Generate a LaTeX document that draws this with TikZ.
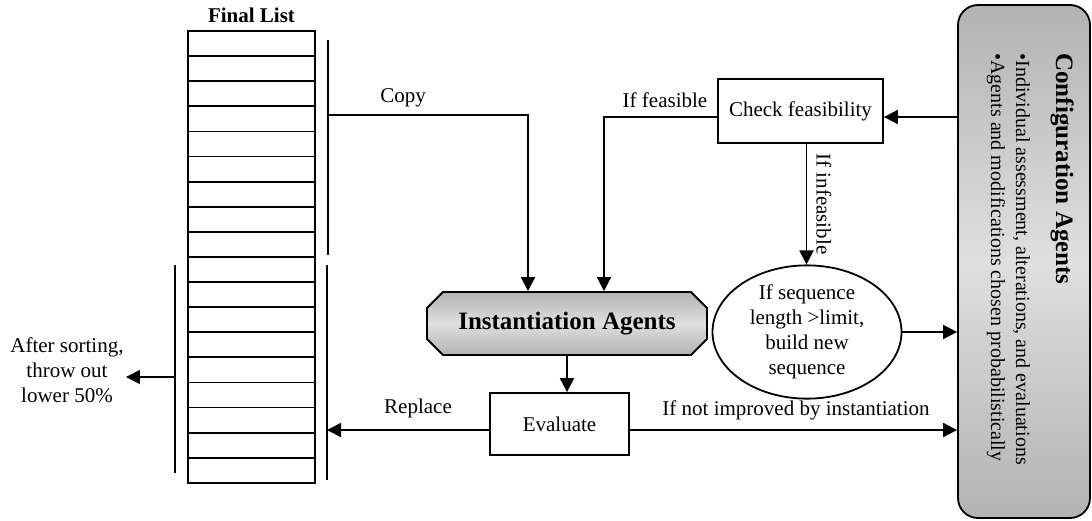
\documentclass[tikz,border=0pt]{standalone}
\usepackage{fontspec}
\setmainfont{Liberation Serif}
\usetikzlibrary{arrows.meta, positioning, shapes.geometric, shapes.misc}

\tikzset{
  every node/.style={font=\fontsize{10.5}{12.5}\selectfont},
  arr/.style={-{Triangle[length=7pt,width=7pt]}, line width=0.9pt},
  bar/.style={line width=0.9pt},
  listcell/.style={draw, line width=0.9pt, minimum width=63.5pt, minimum height=12.55pt, inner sep=0pt},
  stepbox/.style={draw, line width=0.9pt, inner sep=2pt},
  agentbox/.style={draw, line width=0.9pt, top color=gray!60, bottom color=gray!60, middle color=gray!25},
  lbl/.style={inner sep=1pt}
}

\begin{document}
\begin{tikzpicture}[x=0.5pt, y=-0.5pt]
    \useasboundingbox (0,0) rectangle (1092,520);

    % the list of sequences
    \foreach \i in {1,...,18}
        \node[listcell] (row\i) at (251.5, {31+25.1*(\i-0.5)}) {};
    \node (title) [above=0pt of row1, font=\bfseries\fontsize{10.5}{12}\selectfont] {Final List};

    % brackets beside the list
    \coordinate (bt1) at (328,40);
    \coordinate (bt2) at (328,255);
    \coordinate (bb1) at (327,265);
    \coordinate (bb2) at (327,480);
    \coordinate (bl1) at (175,265);
    \coordinate (bl2) at (175,473);
    \draw[bar] (bt1) -- (bt2);
    \draw[bar] (bb1) -- (bb2);
    \draw[bar] (bl1) -- (bl2);
    \coordinate (copyout) at (328,115);
    \coordinate (cutout) at (175,377);

    % agents and steps
    \node (inst) [agentbox, chamfered rectangle, chamfered rectangle xsep=4pt, chamfered rectangle ysep=4pt,
        minimum width=140pt, minimum height=31.5pt, inner sep=0pt,
        font=\bfseries\fontsize{12.5}{15}\selectfont] at (567,323.5) {Instantiation Agents};
    \node (eval) [stepbox, minimum width=69.5pt, minimum height=31pt] at (559.5,424) {Evaluate};
    \node (check) [stepbox, minimum width=82.5pt, minimum height=32pt] at (800.5,111) {Check feasibility};
    \node (seq) [draw, ellipse, line width=0.9pt, minimum width=94.5pt, minimum height=54.5pt,
        inner sep=0pt, align=center] at (807,332) {If sequence\\length >limit,\\build new\\sequence};
    \node (config) [agentbox, rounded corners=10pt, minimum width=66pt, minimum height=256.5pt] at (1024,261.5) {};
    \node (configtxt) [rotate=-90, anchor=north west, align=left, inner sep=0pt,
        font=\fontsize{10}{12.5}\selectfont] at (1074,53)
        {{\bfseries\fontsize{12.5}{15}\selectfont Configuration Agents}\\[7.5pt]
         •Individual assessment, alterations, and evaluations\\
         •Agents and modifications chosen probabilistically};

    % labels
    \node (after) [lbl, align=center] at (67,370) {After sorting,\\throw out\\lower 50\%};
    \node (copylbl) [lbl] at (403,98) {Copy};
    \node (feaslbl) [lbl] at (665,100) {If feasible};
    \node (inflbl) [lbl, rotate=-90] at (824,204) {If infeasible};
    \node (repllbl) [lbl] at (418,408) {Replace};
    \node (notlbl) [lbl] at (796,410) {If not improved by instantiation};

    % ports slightly below the box centres
    \coordinate (chkin) at ([yshift=-3pt]check.east);
    \coordinate (chkout) at ([yshift=-3pt]check.west);
    \coordinate (chkdown) at ([xshift=3pt]check.south);
    \coordinate (evleft) at ([yshift=-3pt]eval.west);
    \coordinate (evright) at ([yshift=-3pt]eval.east);

    % connectors
    \draw[arr] (copyout) -| ([xshift=-19.5pt]inst.north);
    \draw[arr] (chkout) -| ([xshift=18.5pt]inst.north);
    \draw[arr] (config.west |- chkin) -- (chkin);
    \draw[arr] (chkdown) -- (chkdown |- seq.north);
    \draw[arr] (seq.east) -- (seq.east -| config.west);
    \draw[arr] (inst.south) -- (inst.south |- eval.north);
    \draw[arr] (evleft) -- (evleft -| bb1);
    \draw[arr] (evright) -- (evright -| config.west);
    \draw[arr] (cutout) -- (after.east |- cutout);
\end{tikzpicture}
\end{document}
